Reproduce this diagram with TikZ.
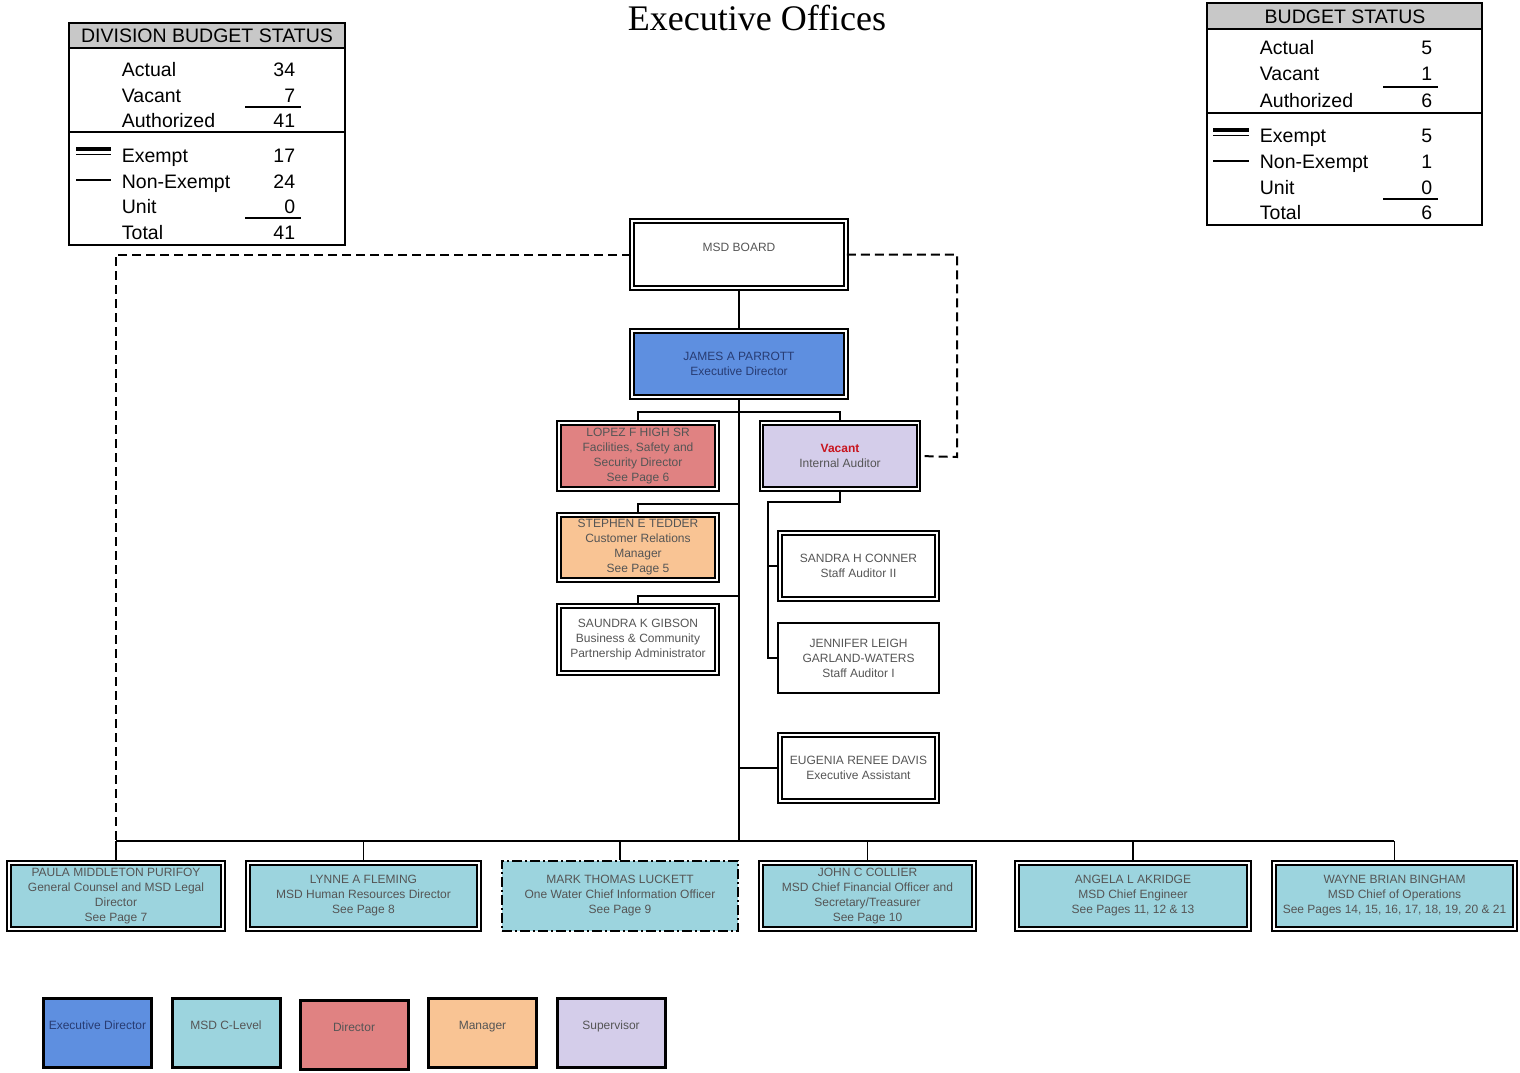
\documentclass[tikz,border=0pt]{standalone}
\usepackage{fontspec}
\setmainfont{Liberation Sans}
\newfontfamily\titlefont{Liberation Serif}
\usepackage{tikz}
\usepackage{xcolor}

\definecolor{execblue}{RGB}{94,143,224}
\definecolor{clevel}{RGB}{156,212,222}
\definecolor{dirred}{RGB}{224,130,130}
\definecolor{mgrorange}{RGB}{249,196,148}
\definecolor{supvlilac}{RGB}{212,205,234}
\definecolor{headgray}{RGB}{200,200,200}
\definecolor{boxtext}{RGB}{85,85,85}
\definecolor{exectext}{RGB}{40,60,115}
\definecolor{vacred}{RGB}{200,20,30}

\tikzset{
  post/.style={draw, double=white, double distance=1.8pt, line width=1.8pt,
    inner sep=0pt, align=center, text=boxtext, font=\fontsize{12}{15}\selectfont},
  plainpost/.style={post, double=none, line width=2pt},
  dashpost/.style={plainpost, line width=2.4pt, dash pattern=on 10pt off 3pt on 2pt off 3pt},
  keybox/.style={draw, line width=3pt, inner sep=0pt, align=center,
    text=boxtext, font=\fontsize{12}{15}\selectfont, minimum width=108pt, minimum height=69pt},
  boxsize/.style 2 args={minimum width=#1, minimum height=#2},
  budget/.style={inner sep=0pt, font=\fontsize{19.5}{24}\selectfont},
  link/.style={line width=1.8pt},
  dottedlink/.style={line width=2pt, dash pattern=on 9pt off 5pt}
}

\begin{document}
\begin{tikzpicture}[x=1pt, y=-1pt, line width=1.8pt]
    \useasboundingbox (0,0) rectangle (1520,1073);
    \node[anchor=base] (title) at (757,31) {\titlefont\fontsize{36}{40}\selectfont Executive Offices};

    % Division budget status
    \fill[headgray] (69,23) rectangle (345,48);
    \draw[line width=2pt] (69,23) rectangle (345,245);
    \draw[line width=2pt] (69,48) -- (345,48) (69,132) -- (345,132);
    \node[budget, anchor=base] (dhead) at (207,43) {DIVISION BUDGET STATUS};
    \foreach \lab/\val/\y [count=\i] in {Actual/34/77, Vacant/7/102, Authorized/41/127,
        Exempt/17/162, Non-Exempt/24/188, Unit/0/213, Total/41/239} {
      \node[budget, anchor=base west] (dlab\i) at (121,\y) {\lab};
      \node[budget, anchor=base east] (dval\i) at (296,\y) {\val};
    }
    \draw[line width=1.5pt] (245,107) -- (301,107) (245,218) -- (301,218);
    \draw[line width=3.5pt] (76,149) -- (111,149);
    \draw[line width=1.5pt] (76,154.5) -- (111,154.5);
    \draw[line width=1.2pt] (76,180) -- (111,180);

    % Budget status
    \fill[headgray] (1207,3) rectangle (1482,29);
    \draw[line width=2pt] (1207,3) rectangle (1482,225);
    \draw[line width=2pt] (1207,29) -- (1482,29) (1207,113) -- (1482,113);
    \node[budget, anchor=base] (bhead) at (1345,24) {BUDGET STATUS};
    \foreach \lab/\val/\y [count=\i] in {Actual/5/55, Vacant/1/81, Authorized/6/107,
        Exempt/5/142, Non-Exempt/1/168, Unit/0/194, Total/6/219} {
      \node[budget, anchor=base west] (blab\i) at (1259,\y) {\lab};
      \node[budget, anchor=base east] (bval\i) at (1433,\y) {\val};
    }
    \draw[line width=1.5pt] (1383,87) -- (1438,87) (1383,199) -- (1438,199);
    \draw[line width=3.5pt] (1213,130) -- (1249,130);
    \draw[line width=1.5pt] (1213,135.5) -- (1249,135.5);
    \draw[line width=1.2pt] (1213,161) -- (1249,161);

    % Board and director
    \node[post, boxsize={214pt}{67pt}] (board) at (739,254.5) {MSD BOARD\\ \mbox{}};
    \node[post, boxsize={214pt}{66pt}, fill=execblue, text=exectext] (exec) at (739,364)
        {JAMES A PARROTT\\Executive Director};

    % Direct reports
    \node[post, boxsize={158pt}{66pt}, fill=dirred] (lopez) at (638,456)
        {LOPEZ F HIGH SR\\Facilities, Safety and\\Security Director\\See Page 6};
    \node[post, boxsize={157pt}{66pt}, fill=supvlilac] (vacant) at (840,456)
        {\textcolor{vacred}{\bfseries Vacant}\\Internal Auditor};
    \node[post, boxsize={158pt}{65pt}, fill=mgrorange] (tedder) at (638,547.5)
        {STEPHEN E TEDDER\\Customer Relations\\Manager\\See Page 5};
    \node[post, boxsize={158pt}{67pt}] (gibson) at (638,639.5)
        {SAUNDRA K GIBSON\\Business \& Community\\Partnership Administrator};
    \node[post, boxsize={157pt}{66pt}] (conner) at (858.5,566)
        {SANDRA H CONNER\\Staff Auditor II};
    \node[plainpost, boxsize={161pt}{70pt}] (garland) at (858.5,658)
        {JENNIFER LEIGH\\GARLAND-WATERS\\Staff Auditor I};
    \node[post, boxsize={157pt}{66pt}] (davis) at (858.5,768)
        {EUGENIA RENEE DAVIS\\Executive Assistant};

    % C-level row
    \node[post, boxsize={214pt}{66pt}, fill=clevel] (paula) at (116,896)
        {PAULA MIDDLETON PURIFOY\\General Counsel and MSD Legal\\Director\\See Page 7};
    \node[post, boxsize={231pt}{66pt}, fill=clevel] (lynne) at (363.5,896)
        {LYNNE A FLEMING\\MSD Human Resources Director\\See Page 8};
    \node[dashpost, boxsize={236pt}{70pt}, fill=clevel] (mark) at (620,896)
        {MARK THOMAS LUCKETT\\One Water Chief Information Officer\\See Page 9};
    \node[post, boxsize={213pt}{66pt}, fill=clevel] (john) at (867.5,896)
        {JOHN C COLLIER\\MSD Chief Financial Officer and\\Secretary/Treasurer\\See Page 10};
    \node[post, boxsize={232pt}{66pt}, fill=clevel] (angela) at (1133,896)
        {ANGELA L AKRIDGE\\MSD Chief Engineer\\See Pages 11, 12 \& 13};
    \node[post, boxsize={241pt}{66pt}, fill=clevel] (wayne) at (1394.5,896)
        {WAYNE BRIAN BINGHAM\\MSD Chief of Operations\\See Pages 14, 15, 16, 17, 18, 19, 20 \& 21};

    % Connectors
    \coordinate (busL) at (116,841);
    \coordinate (busR) at (1394,841);
    \coordinate (audbus) at (768,502);
    \coordinate (dashR) at (957,457);
    \draw[link] (board.south) -- (exec.north);
    \draw[link] (exec.south) -- (exec.south |- busL);
    \draw[link] (busL) -- (busR);
    \foreach \n in {paula,lynne,mark,john,angela,wayne}
      \draw[link] (\n.north) -- (\n.north |- busL);
    \draw[link] (lopez.north) -- ++(0,-10) -| (vacant.north);
    \draw[link] (tedder.north) -- ++(0,-10) -| (exec.south);
    \draw[link] (gibson.north) -- ++(0,-9) -| (exec.south);
    \draw[link] (davis.west) -| (exec.south);
    \draw[link] (vacant.south) |- (audbus) |- (garland.west);
    \draw[link] (conner.west) -- (conner.west -| audbus);
    % Dotted reporting lines
    \draw[dottedlink] (board.west) -| (busL);
    \draw[dottedlink] (board.east) -| (dashR) -- (vacant.east);

    % Legend
    \node[keybox, fill=execblue, text=exectext] (kexec) at (97.5,1033) {Executive Director\\ \mbox{}};
    \node[keybox, fill=clevel] (kclevel) at (226,1033) {MSD C-Level\\ \mbox{}};
    \node[keybox, fill=dirred] (kdir) at (354,1035) {Director\\ \mbox{}};
    \node[keybox, fill=mgrorange] (kmgr) at (482.5,1033) {Manager\\ \mbox{}};
    \node[keybox, fill=supvlilac] (ksup) at (611,1033) {Supervisor\\ \mbox{}};
\end{tikzpicture}
\end{document}
